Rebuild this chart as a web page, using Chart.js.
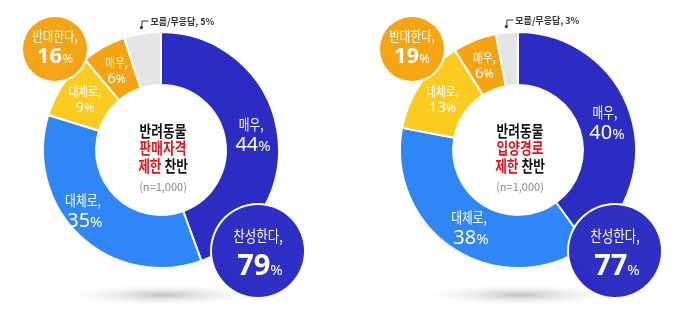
<!DOCTYPE html>
<html>
<head>
<meta charset="utf-8">
<script src="https://cdn.jsdelivr.net/npm/chart.js@4"></script>
<style>
body{margin:0;background:#fff;}
.wrap{display:flex;width:680px;height:332px;}
canvas{display:block;}
</style>
</head>
<body>
<div class="wrap">
<canvas id="left" width="340" height="332"></canvas>
<canvas id="right" width="340" height="332"></canvas>
</div>
<script>
var labels = ['매우', '대체로', '대체로', '매우', '모름/무응답'];
var salesLimit = [44, 35, 9, 6, 5];
var adoptLimit = [40, 38, 13, 6, 3];
var agreeTotal = [79, 77];
var disagreeTotal = [16, 19];
var topics = ['판매자격', '입양경로'];
var colors = ['#2b2cc2', '#2f86f6', '#fbcb1f', '#f6a312', '#e5e5e5'];
var FONT = '"Noto Sans CJK KR", "Noto Sans", sans-serif';
var NUM = '"Noto Sans", "Noto Sans CJK KR", sans-serif';
var HANGUL_SX = 0.78; // hangul is drawn slightly condensed

// runs: [text, font, horizontal scale, colour], centred on x
function drawRuns(ctx, runs, x, y) {
    var widths = runs.map(function(r) {
        ctx.font = r[1];
        return ctx.measureText(r[0]).width * (r[2] || 1);
    });
    var total = widths.reduce(function(a, b) { return a + b; }, 0);
    var sx = x - total / 2;
    ctx.textAlign = 'left';
    runs.forEach(function(r, i) {
        ctx.save();
        ctx.font = r[1];
        if (r[3]) ctx.fillStyle = r[3];
        ctx.translate(sx, y);
        ctx.scale(r[2] || 1, 1);
        ctx.fillText(r[0], 0, 0);
        ctx.restore();
        sx += widths[i];
    });
}

function bubble(ctx, x, y, r, color, title, value, big) {
    ctx.save();
    ctx.beginPath();
    ctx.arc(x, y, r, 0, Math.PI * 2);
    ctx.fillStyle = '#fff';
    ctx.fill();
    ctx.beginPath();
    ctx.arc(x, y, r - 2, 0, Math.PI * 2);
    ctx.fillStyle = color;
    ctx.fill();
    // faint diagonal stripes
    ctx.clip();
    ctx.strokeStyle = 'rgba(255,255,255,0.06)';
    ctx.lineWidth = 1;
    for (var i = -2 * r; i < 2 * r; i += 4) {
        ctx.beginPath();
        ctx.moveTo(x + i, y - r);
        ctx.lineTo(x + i + 2 * r, y + r);
        ctx.stroke();
    }
    ctx.restore();
    ctx.save();
    ctx.fillStyle = '#fff';
    ctx.textBaseline = 'alphabetic';
    if (big) {
        drawRuns(ctx, [[title + ',', '16px ' + FONT, HANGUL_SX]], x, y - 9);
        drawRuns(ctx, [[String(value), 'bold 29px ' + NUM], ['%', '15px ' + NUM]], x + 2, y + 24);
    } else {
        drawRuns(ctx, [[title + ',', '14px ' + FONT, 0.82]], x, y - 8);
        drawRuns(ctx, [[String(value), 'bold 22px ' + NUM], ['%', '13px ' + NUM]], x, y + 14);
    }
    ctx.restore();
}

var donutPlugin = {
    id: 'donutText',
    beforeDatasetsDraw: function(chart) {
        var ctx = chart.ctx;
        var arc = chart.getDatasetMeta(0).data[0];
        var cx = arc.x + 2, cy = arc.y + 145;
        ctx.save();
        ctx.translate(cx, cy);
        ctx.scale(1, 0.11);
        var g = ctx.createRadialGradient(0, 0, 0, 0, 0, 95);
        g.addColorStop(0, 'rgba(170,170,170,0.75)');
        g.addColorStop(0.5, 'rgba(200,200,200,0.35)');
        g.addColorStop(1, 'rgba(230,230,230,0)');
        ctx.fillStyle = g;
        ctx.beginPath();
        ctx.arc(0, 0, 95, 0, Math.PI * 2);
        ctx.fill();
        ctx.restore();
    },
    afterDatasetsDraw: function(chart, args, opts) {
        var ctx = chart.ctx;
        var meta = chart.getDatasetMeta(0);
        var values = chart.data.datasets[0].data;
        var p0 = meta.data[0];
        var cx = p0.x, cy = p0.y;

        // segment labels
        ctx.save();
        ctx.fillStyle = '#fff';
        ctx.textBaseline = 'alphabetic';
        for (var k = 0; k < 4; k++) {
            var p = meta.data[k].getProps(['x', 'y', 'startAngle', 'endAngle', 'innerRadius', 'outerRadius'], true);
            var mid = (p.startAngle + p.endAngle) / 2;
            var r = (p.innerRadius + p.outerRadius) / 2;
            var shift = (opts.shift && opts.shift[k]) || [0, 0];
            var x = p.x + Math.cos(mid) * r + shift[0];
            var y = p.y + Math.sin(mid) * r + shift[1];
            if (values[k] >= 20) {
                drawRuns(ctx, [[labels[k] + ',', '15px ' + FONT, HANGUL_SX]], x, y - 4);
                drawRuns(ctx, [[String(values[k]), '20px ' + NUM], ['%', '15px ' + NUM]], x + 2, y + 17);
            } else {
                drawRuns(ctx, [[labels[k] + ',', '13px ' + FONT, 0.82]], x, y - 3);
                drawRuns(ctx, [[String(values[k]), '15px ' + NUM], ['%', '12px ' + NUM]], x, y + 13);
            }
        }
        ctx.restore();

        // small leader label for the grey slice
        var g = meta.data[4].getProps(['startAngle', 'endAngle', 'outerRadius'], true);
        var ga = (g.startAngle + g.endAngle) / 2;
        var dx = cx + Math.cos(ga) * (g.outerRadius + 6);
        var dy = cy + Math.sin(ga) * (g.outerRadius + 6);
        ctx.save();
        ctx.fillStyle = '#333';
        ctx.strokeStyle = '#333';
        ctx.lineWidth = 1;
        ctx.beginPath();
        ctx.arc(dx, dy, 1.6, 0, Math.PI * 2);
        ctx.fill();
        ctx.beginPath();
        ctx.moveTo(dx + 0.5, dy);
        ctx.lineTo(dx + 0.5, dy - 6.5);
        ctx.lineTo(dx + 7, dy - 6.5);
        ctx.stroke();
        ctx.font = 'bold 9px ' + FONT;
        ctx.textAlign = 'left';
        ctx.textBaseline = 'middle';
        ctx.fillText(labels[4] + ', ' + values[4] + '%', dx + 9, dy - 6);
        ctx.restore();

        // summary bubbles
        bubble(ctx, cx - 106, cy - 101, 34, colors[3], '반대한다', disagreeTotal[opts.idx], false);
        bubble(ctx, cx + 97, cy + 101, 48, colors[0], '찬성한다', agreeTotal[opts.idx], true);

        // centre title
        ctx.save();
        ctx.textBaseline = 'alphabetic';
        var tx = cx + 2;
        var tf = 'bold 15.5px ' + FONT;
        var tsx = 0.82;
        drawRuns(ctx, [['반려동물', tf, tsx, '#111']], tx, cy - 13.5);
        drawRuns(ctx, [[topics[opts.idx], tf, tsx, '#e3141b']], tx, cy + 4);
        drawRuns(ctx, [['제한', tf, tsx, '#e3141b'], [' 찬반', tf, tsx, '#111']], tx, cy + 21.5);
        drawRuns(ctx, [['(n=1,000)', '11px ' + FONT, 1, '#8a8a8a']], tx, cy + 40.5);
        ctx.restore();
    }
};

function makeChart(id, values, idx, padding, shift) {
    return new Chart(document.getElementById(id).getContext('2d'), {
        type: 'doughnut',
        data: {
            labels: labels,
            datasets: [{
                data: values,
                backgroundColor: colors,
                borderColor: '#fff',
                borderWidth: 2,
                hoverOffset: 0
            }]
        },
        options: {
            responsive: false,
            animation: false,
            events: [],
            cutout: '55%',
            layout: { padding: padding },
            plugins: {
                legend: { display: false },
                tooltip: { enabled: false },
                donutText: { idx: idx, shift: shift }
            }
        },
        plugins: [donutPlugin]
    });
}

makeChart('left', salesLimit, 0, { left: 42, right: 60, top: 31, bottom: 63 }, { 1: [-15, -6] });
makeChart('right', adoptLimit, 1, { left: 59, right: 43, top: 31, bottom: 63 }, {});
</script>
</body>
</html>
